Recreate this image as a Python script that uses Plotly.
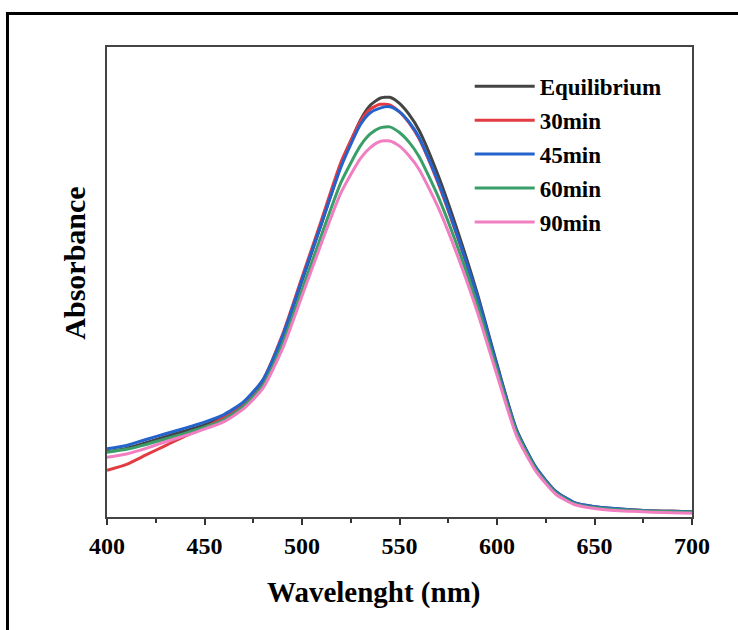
import plotly.graph_objects as go

wavelength = [400, 410, 420, 430, 440, 450, 460, 470, 480, 490, 500, 510, 520, 530, 535, 540, 545,
              550, 555, 560, 570, 580, 590, 600, 610, 620, 630, 640, 650, 660, 670, 680, 690, 700]

equilibrium = [0.139, 0.146, 0.158, 0.171, 0.183, 0.196, 0.213, 0.242, 0.289, 0.382, 0.502, 0.624, 0.748,
               0.845, 0.876, 0.891, 0.893, 0.880, 0.856, 0.823, 0.725, 0.606, 0.474, 0.325, 0.186, 0.105,
               0.055, 0.030, 0.022, 0.018, 0.015, 0.013, 0.012, 0.011]
min30 = [0.0995, 0.112, 0.132, 0.152, 0.172, 0.190, 0.212, 0.242, 0.292, 0.388, 0.510, 0.632, 0.755,
         0.842, 0.868, 0.878, 0.877, 0.862, 0.838, 0.805, 0.708, 0.592, 0.463, 0.318, 0.183, 0.103,
         0.054, 0.029, 0.021, 0.017, 0.015, 0.013, 0.012, 0.011]
min45 = [0.145, 0.152, 0.165, 0.177, 0.189, 0.202, 0.218, 0.245, 0.292, 0.385, 0.505, 0.625, 0.745,
         0.835, 0.860, 0.870, 0.873, 0.862, 0.840, 0.808, 0.712, 0.595, 0.468, 0.322, 0.185, 0.105,
         0.055, 0.030, 0.022, 0.018, 0.015, 0.013, 0.012, 0.011]
min60 = [0.138, 0.144, 0.154, 0.166, 0.178, 0.191, 0.207, 0.235, 0.280, 0.368, 0.483, 0.600, 0.712,
         0.790, 0.815, 0.828, 0.830, 0.818, 0.797, 0.767, 0.680, 0.572, 0.450, 0.312, 0.180, 0.101,
         0.052, 0.028, 0.020, 0.016, 0.014, 0.012, 0.011, 0.010]
min90 = [0.127, 0.134, 0.146, 0.160, 0.173, 0.187, 0.203, 0.230, 0.274, 0.358, 0.470, 0.583, 0.690,
         0.763, 0.786, 0.799, 0.800, 0.789, 0.768, 0.740, 0.657, 0.553, 0.435, 0.302, 0.173, 0.097,
         0.049, 0.026, 0.018, 0.014, 0.012, 0.010, 0.009, 0.008]

series_names = ["Equilibrium", "30min", "45min", "60min", "90min"]
series_values = [equilibrium, min30, min45, min60, min90]
series_colors = ["#444444", "#e23c42", "#2563cc", "#3a9e68", "#f27ec2"]

x_ticks = [400, 450, 500, 550, 600, 650, 700]
x_title = "Wavelenght (nm)"
y_title = "Absorbance"

FONT = "Liberation Serif, Times New Roman, serif"

fig = go.Figure()
for name, vals, col in zip(series_names, series_values, series_colors):
    fig.add_trace(go.Scatter(
        x=wavelength, y=vals, name=name, mode="lines",
        line=dict(color=col, width=3, shape="spline", smoothing=0.6),
        legendgroup=name,
    ))

fig.update_layout(
    width=738, height=630,
    margin=dict(l=107, r=46, t=47, b=113),
    paper_bgcolor="white", plot_bgcolor="white",
    font=dict(family=FONT, color="black"),
    showlegend=True,
    legend=dict(
        x=0.62, y=0.962, xanchor="left", yanchor="top",
        bgcolor="rgba(0,0,0,0)", borderwidth=0,
        font=dict(family=FONT, size=23, color="black", weight="bold"),
        tracegroupgap=1, itemwidth=60,
    ),
    xaxis=dict(
        range=[400, 700], tickvals=x_ticks, ticktext=[str(t) for t in x_ticks],
        ticks="outside", ticklen=6, tickwidth=1.5, tickcolor="#333",
        minor=dict(dtick=25, ticks="outside", ticklen=4, tickwidth=1.5, tickcolor="#333"),
        showline=True, linecolor="#444", linewidth=2, mirror=True,
        showgrid=False, zeroline=False,
        tickfont=dict(family=FONT, size=24, color="black", weight="bold"),
    ),
    yaxis=dict(
        range=[0, 1.0], showticklabels=False, ticks="",
        showline=True, linecolor="#444", linewidth=2, mirror=True,
        showgrid=False, zeroline=False,
    ),
    annotations=[
        dict(text=x_title, xref="paper", yref="paper", x=0.4556, y=-0.1596,
             xanchor="center", yanchor="middle", showarrow=False,
             font=dict(family=FONT, size=29, color="black", weight="bold")),
        dict(text=y_title, xref="paper", yref="paper", x=-0.0547, y=0.539, textangle=-90,
             xanchor="center", yanchor="middle", showarrow=False,
             font=dict(family=FONT, size=30, color="black", weight="bold")),
    ],
    shapes=[
        dict(type="line", xref="paper", yref="paper", x0=-0.1701, x1=-0.1701, y0=1.0745, y1=-0.3,
             line=dict(color="black", width=3)),
        dict(type="line", xref="paper", yref="paper", x0=-0.1727, x1=1.1, y0=1.0713, y1=1.0713,
             line=dict(color="black", width=3)),
    ],
)

fig.write_html("out.html", config={"displayModeBar": False},
               post_script="document.body.style.margin='0';")
